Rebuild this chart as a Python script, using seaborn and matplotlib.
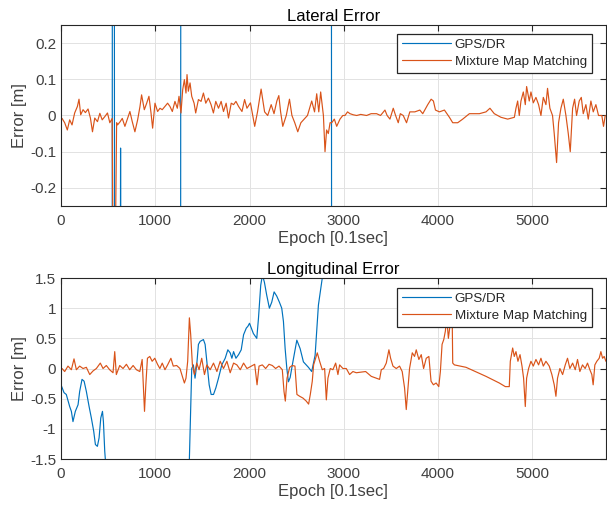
import matplotlib
matplotlib.use("Agg")
import matplotlib.pyplot as plt
import numpy as np
import pandas as pd
import seaborn as sns

# dane (epoka [0.1 s], blad [m])

# Lateral - GPS/DR (poza zakresem osi praktycznie wszedzie)
lat_gps_epoch = [0, 540, 548, 562, 572, 585, 615, 632, 648, 1265, 1275, 2865, 2875, 5780]
lat_gps_err = [-3, -3, 3, 3, -3, -3, -3, -0.09, -3, -3, 3, 3, -3, -3]

# Lateral - Mixture Map Matching
lat_mm_epoch = [11, 39, 67, 92, 117, 145, 174, 191, 209, 234, 259, 287, 312, 334, 358,
                387, 412, 437, 465, 493, 518, 543, 552, 575, 590, 600, 625, 650, 678, 706,
                731, 756, 784, 813, 838, 855, 884, 909, 933, 955, 972, 997, 1025, 1050, 1074,
                1103, 1131, 1156, 1181, 1209, 1234, 1252, 1273, 1291, 1309, 1326, 1337, 1351, 1369, 1387,
                1412, 1429, 1458, 1486, 1511, 1536, 1564, 1592, 1617, 1642, 1671, 1699, 1724, 1752, 1777,
                1806, 1831, 1856, 1884, 1920, 1948, 1973, 2010, 2055, 2085, 2123, 2160, 2193, 2230, 2260,
                2290, 2311, 2330, 2353, 2390, 2424, 2450, 2480, 2512, 2545, 2580, 2615, 2660, 2690, 2713,
                2735, 2755, 2784, 2801, 2818, 2836, 2855, 2872, 2900, 2925, 2960, 2990, 3013, 3040, 3066,
                3100, 3137, 3180, 3242, 3290, 3348, 3390, 3437, 3460, 3490, 3525, 3550, 3578, 3600, 3631,
                3666, 3701, 3754, 3807, 3838, 3891, 3927, 3951, 3973, 4015, 4068, 4121, 4156, 4209, 4262,
                4333, 4439, 4509, 4551, 4597, 4668, 4739, 4810, 4827, 4845, 4862, 4880, 4905, 4926, 4940,
                4968, 4986, 5011, 5039, 5067, 5092, 5117, 5145, 5162, 5187, 5215, 5233, 5258, 5279, 5304,
                5329, 5357, 5382, 5403, 5428, 5449, 5470, 5498, 5520, 5541, 5569, 5594, 5622, 5647, 5675,
                5703, 5738, 5756, 5774]
lat_mm_err = [-0.008, -0.02, -0.04, -0.012, -0.026, 0.007, 0.025, 0.045, 0.002, 0.016, 0.008, 0.018, -0.007, -0.045, -0.007,
              -0.017, 0.006, -0.012, -0.003, 0.007, -0.02, -0.008, -0.4, -0.4, -0.02, -0.026, -0.018, -0.008, -0.03, -0.008,
              0.011, -0.017, -0.045, -0.012, 0.025, 0.057, 0.016, 0.034, 0.053, 0.007, -0.035, 0.034, 0.011, 0.02, 0.016,
              0.025, 0.034, 0.025, 0.011, 0.039, 0.02, 0.053, 0.007, 0.071, 0.099, 0.062, 0.113, 0.067, 0.09, 0.053,
              0.034, 0.007, 0.044, 0.039, 0.062, 0.034, 0.048, 0.03, 0.007, 0.039, 0.02, 0.039, 0.011, 0.034, -0.007,
              0.034, 0.03, 0.039, 0.025, 0.011, 0.044, 0.02, 0.035, -0.03, 0.01, 0.073, 0.01, 0.0, 0.03, 0.005,
              0.04, 0.055, 0.01, -0.03, 0.0, 0.045, 0.0, -0.02, -0.045, -0.02, -0.01, 0.0, 0.04, 0.01, 0.06,
              0.01, 0.065, 0.0, -0.1, -0.04, -0.05, -0.02, -0.02, -0.01, -0.03, -0.01, 0.0, 0.0, 0.01, 0.005,
              0.002, 0.0, 0.003, 0.0, 0.005, 0.005, 0.0, 0.015, 0.0, -0.01, 0.02, 0.0, -0.02, 0.005, 0.0,
              -0.02, 0.01, 0.01, 0.015, 0.005, 0.03, 0.045, 0.04, 0.015, 0.01, 0.015, -0.005, -0.02, -0.02, -0.01,
              0.005, 0.005, 0.01, 0.02, 0.005, -0.005, -0.01, -0.005, 0.02, 0.04, 0.0, 0.04, 0.065, 0.03, 0.08,
              0.04, 0.065, 0.035, 0.05, 0.03, 0.0, 0.05, 0.03, 0.075, 0.02, 0.0, -0.05, -0.13, -0.02, 0.02,
              0.045, 0.0, -0.05, -0.1, 0.02, 0.045, 0.0, 0.04, 0.05, 0.005, 0.03, -0.01, 0.04, 0.01, 0.03,
              0.0, 0.0, -0.03, 0.0]

# Longitudinal - GPS/DR
lon_gps_epoch = [0, 32, 56, 92, 110, 127, 152, 181, 198, 223, 245, 269, 298, 322, 347,
                 365, 386, 404, 422, 440, 450, 464, 475, 500, 1000, 1340, 1362, 1387, 1404, 1422,
                 1440, 1458, 1476, 1511, 1529, 1547, 1572, 1593, 1618, 1643, 1671, 1706, 1742, 1770, 1795,
                 1813, 1831, 1856, 1884, 1912, 1937, 1966, 1983, 2000, 2041, 2077, 2095, 2119, 2137, 2158,
                 2182, 2211, 2236, 2261, 2289, 2317, 2342, 2360, 2378, 2396, 2413, 2431, 2459, 2502, 2537,
                 2572, 2625, 2660, 2696, 2731, 2772, 2790, 3500, 5780]
lon_gps_err = [-0.27, -0.4, -0.43, -0.63, -0.71, -0.88, -0.71, -0.6, -0.38, -0.18, -0.21, -0.38, -0.63, -0.82, -1.04,
               -1.26, -1.29, -1.15, -0.82, -0.71, -0.88, -1.37, -1.6, -2.2, -3.0, -2.2, -1.5, 0.0, 0.06, -0.16,
               0.06, 0.4, 0.45, 0.48, 0.4, 0.12, -0.27, -0.43, -0.43, -0.32, -0.16, 0.06, 0.17, 0.31, 0.26,
               0.17, 0.28, 0.17, 0.23, 0.31, 0.56, 0.67, 0.7, 0.75, 0.58, 0.5, 0.83, 1.38, 1.55, 1.43,
               1.22, 1.0, 1.1, 1.27, 1.2, 1.1, 1.0, 0.78, 0.33, 0.0, -0.22, -0.15, 0.1, 0.47, 0.33,
               0.11, 0.02, -0.05, 0.22, 1.05, 1.5, 2.0, 3.0, 4.0]

# Longitudinal - Mixture Map Matching
lon_mm_epoch = [11, 39, 74, 110, 138, 163, 198, 234, 269, 305, 340, 375, 417, 446, 481,
                516, 552, 570, 587, 623, 658, 694, 729, 765, 800, 836, 861, 875, 886, 900,
                917, 942, 967, 995, 1024, 1049, 1074, 1103, 1131, 1166, 1191, 1227, 1262, 1287, 1309,
                1326, 1344, 1362, 1376, 1394, 1415, 1440, 1465, 1493, 1522, 1547, 1583, 1618, 1654, 1689,
                1724, 1760, 1795, 1831, 1866, 1902, 1937, 1973, 2020, 2055, 2080, 2101, 2136, 2171, 2207,
                2242, 2277, 2313, 2348, 2366, 2380, 2398, 2426, 2454, 2482, 2503, 2532, 2567, 2602, 2627,
                2645, 2666, 2680, 2701, 2719, 2744, 2772, 2797, 2815, 2832, 2857, 2885, 2914, 2938, 2956,
                2991, 3027, 3062, 3097, 3133, 3186, 3232, 3292, 3380, 3398, 3423, 3451, 3479, 3497, 3522,
                3557, 3592, 3620, 3645, 3663, 3681, 3698, 3727, 3751, 3769, 3797, 3822, 3847, 3875, 3903,
                3926, 3951, 3980, 4008, 4025, 4043, 4061, 4078, 4092, 4110, 4130, 4150, 4156, 4174, 4297,
                4509, 4650, 4714, 4756, 4767, 4792, 4809, 4827, 4848, 4870, 4891, 4908, 4926, 4940, 4961,
                4986, 5011, 5039, 5067, 5092, 5117, 5145, 5180, 5208, 5233, 5251, 5268, 5293, 5322, 5350,
                5374, 5399, 5428, 5456, 5480, 5505, 5533, 5561, 5586, 5611, 5632, 5646, 5664, 5685, 5710,
                5728, 5746, 5763, 5781]
lon_mm_err = [0.0, -0.05, 0.04, -0.02, 0.16, -0.02, 0.04, 0.0, 0.02, -0.1, -0.04, 0.0, 0.09, 0.0, 0.05,
              -0.02, -0.07, 0.28, -0.1, 0.05, 0.0, 0.07, -0.02, 0.05, -0.02, -0.05, 0.15, -0.32, -0.71, -0.27,
              0.17, 0.2, 0.12, 0.17, 0.07, 0.0, 0.09, -0.02, 0.06, 0.17, 0.04, 0.05, 0.0, -0.13, -0.24,
              -0.16, 0.12, 0.84, 0.56, 0.06, -0.1, 0.09, -0.02, 0.17, -0.1, 0.06, -0.02, 0.09, -0.05, 0.12,
              0.0, 0.12, -0.07, 0.09, 0.06, -0.02, 0.09, 0.0, 0.04, 0.07, -0.27, 0.04, 0.06, 0.0, 0.07,
              0.05, 0.0, 0.04, -0.02, -0.38, -0.54, -0.16, 0.02, 0.05, 0.04, -0.43, -0.46, -0.49, -0.54, -0.59,
              -0.43, -0.21, 0.06, 0.17, 0.26, 0.12, -0.02, 0.0, -0.52, -0.16, 0.0, -0.02, 0.09, -0.1, 0.06,
              0.0, 0.0, -0.1, -0.05, -0.07, -0.06, -0.05, -0.13, -0.18, -0.02, 0.0, 0.09, 0.31, 0.17, 0.04,
              0.0, 0.04, -0.05, -0.32, -0.68, -0.32, 0.0, 0.26, 0.2, 0.31, 0.15, 0.23, 0.0, 0.17, 0.2,
              -0.21, -0.27, -0.24, -0.3, -0.05, 0.4, 0.48, 0.62, 0.85, 0.5, 0.75, 0.9, 0.09, 0.06, 0.02,
              -0.13, -0.24, -0.3, -0.3, 0.12, 0.34, 0.2, 0.28, 0.12, 0.23, 0.04, -0.16, -0.63, -0.16, 0.0,
              0.12, 0.04, 0.15, 0.06, 0.17, 0.04, 0.12, 0.04, -0.1, -0.27, -0.46, -0.16, 0.0, -0.1, 0.06,
              0.17, 0.0, 0.09, -0.02, 0.15, -0.05, 0.06, 0.0, 0.09, -0.02, -0.1, -0.27, 0.06, 0.12, 0.17,
              0.28, 0.17, 0.2, 0.12]

series_names = ["GPS/DR", "Mixture Map Matching"]
colors = ["#0072BD", "#D95319"]

x_max = 5780

sns.set_style("white")
plt.rcParams['font.family'] = ['Liberation Sans', 'DejaVu Sans']

fig = plt.figure(figsize=(6.07, 5.09), dpi=100)
ax1 = fig.add_axes([0.1005, 0.5953, 0.8975, 0.3556])
ax2 = fig.add_axes([0.1005, 0.0982, 0.8975, 0.3556])

panels = [
    (ax1, "Lateral Error", (lat_gps_epoch, lat_gps_err), (lat_mm_epoch, lat_mm_err),
     (-0.25, 0.25), [-0.2, -0.1, 0, 0.1, 0.2], ["-0.2", "-0.1", "0", "0.1", "0.2"], 0.95),
    (ax2, "Longitudinal Error", (lon_gps_epoch, lon_gps_err), (lon_mm_epoch, lon_mm_err),
     (-1.5, 1.5), [-1.5, -1, -0.5, 0, 0.5, 1, 1.5], ["-1.5", "-1", "-0.5", "0", "0.5", "1", "1.5"], 0.945),
]

for ax, title, gps, mm, ylim, yticks, ylabels, leg_top in panels:
    df = pd.concat([
        pd.DataFrame({"Epoch": gps[0], "Error": gps[1], "Metoda": series_names[0]}),
        pd.DataFrame({"Epoch": mm[0], "Error": mm[1], "Metoda": series_names[1]}),
    ])
    sns.lineplot(data=df, x="Epoch", y="Error", hue="Metoda", palette=colors,
                 estimator=None, sort=False, linewidth=0.85, ax=ax)

    ax.set_xlim(0, x_max)
    ax.set_ylim(*ylim)
    ax.set_xticks([0, 1000, 2000, 3000, 4000, 5000])
    ax.set_yticks(yticks)
    ax.set_yticklabels(ylabels)
    ax.grid(True, color="#e2e2e2", linewidth=0.7)
    ax.set_axisbelow(True)
    for s in ax.spines.values():
        s.set_color("#262626")
        s.set_linewidth(0.8)
    ax.tick_params(direction="in", length=4, top=True, right=True,
                   labelsize=11, colors="#262626", labelcolor="#404040")
    ax.tick_params(axis="x", pad=6)
    ax.set_title(title, fontsize=12, color="black", pad=3)
    ax.set_xlabel("Epoch [0.1sec]", fontsize=12, color="#404040", labelpad=2)
    ax.set_ylabel("Error [m]", fontsize=12, color="#404040", labelpad=2)

    leg = ax.legend(loc="upper right", bbox_to_anchor=(0.974, leg_top), title=None,
                    fontsize=9.6, fancybox=False, framealpha=1, edgecolor="#262626",
                    handlelength=3.7, borderpad=0.35, labelspacing=0.35, handletextpad=0.25,
                    borderaxespad=0)
    leg.get_frame().set_linewidth(0.9)
    for t in leg.get_texts():
        t.set_color("#262626")

fig.savefig("out.png", dpi=100)
